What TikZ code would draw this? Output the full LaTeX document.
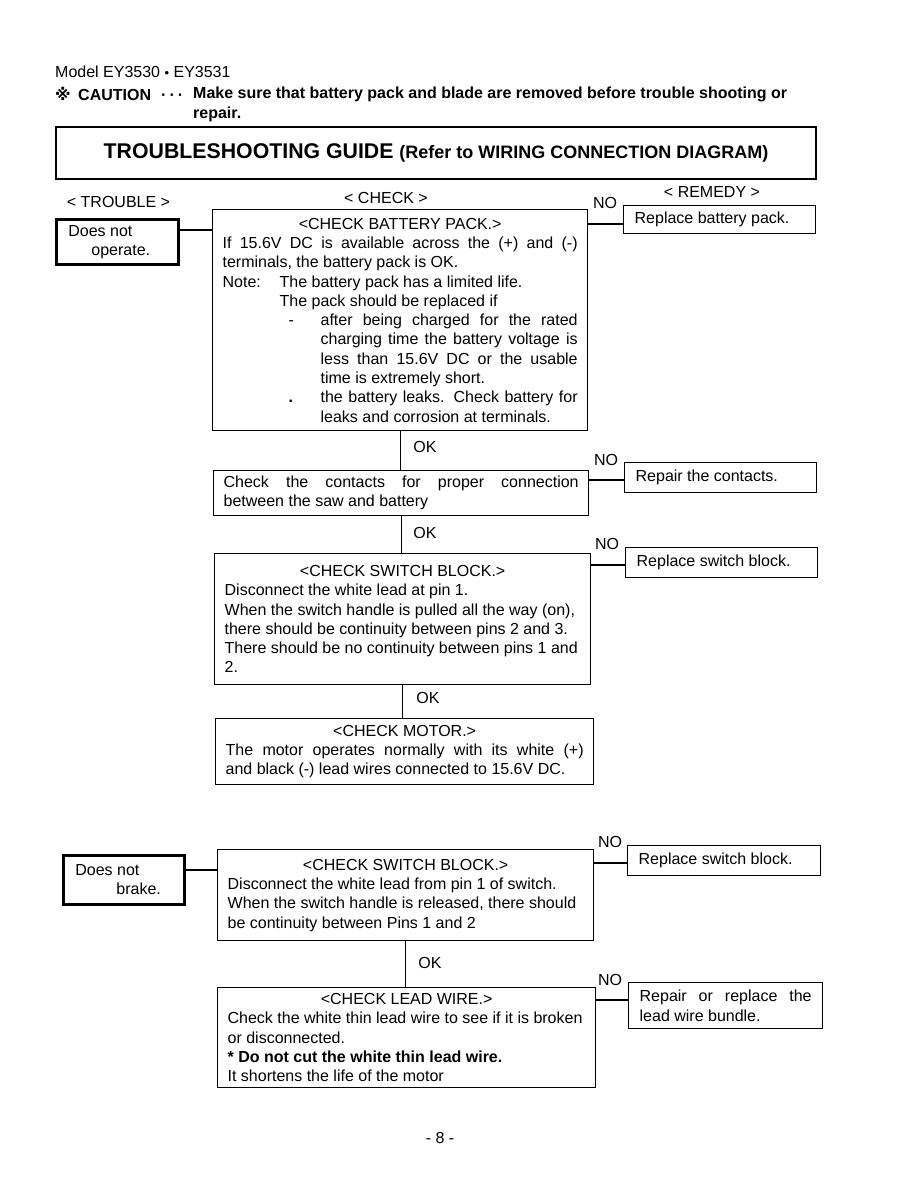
\documentclass[tikz,border=0pt]{standalone}
\usepackage{fontspec}
\setmainfont{Liberation Sans}
\newfontfamily\symfont{DejaVu Sans}
\newcommand\fs{\fontsize{16}{19.3}\selectfont}
\tikzset{
  cbox/.style={draw, line width=1.3pt, anchor=north west, inner xsep=10pt, inner ysep=2pt, font=\fs},
  rbox/.style={draw, line width=1.3pt, anchor=north west, inner xsep=11pt, inner ysep=2pt, font=\fs},
  tbox/.style={draw, line width=2.8pt, anchor=north west, inner xsep=12pt, inner ysep=2pt, font=\fs},
  lbl/.style={inner sep=0pt, font=\fs},
  conn/.style={line width=1.2pt}
}
\begin{document}
\begin{tikzpicture}[x=1pt,y=-1pt]
\useasboundingbox[fill=white] (0,0) rectangle (918,1188);

% header
\node[lbl, anchor=west] (model) at (55,72) {Model EY3530 {\fontsize{13}{14}\selectfont\raisebox{0.5pt}{•}} EY3531};
\node[lbl, anchor=base west, font=\fs\bfseries] (mark) at (55,100.5) {{\symfont\bfseries ※}};
\node[lbl, anchor=base west, font=\fs\bfseries] (caut) at (78,100.5) {CAUTION};
\node[lbl, anchor=base west, font=\fs\bfseries] (dots) at (161,100.5) {·\hspace{3pt}·\hspace{3pt}·};
\node[lbl, anchor=west, font=\fs\bfseries] (caut2) at (193,94) {Make sure that battery pack and blade are removed before trouble shooting or};
\node[lbl, anchor=west, font=\fs\bfseries] (caut3) at (193,114) {repair.};

\node[draw, line width=2pt, anchor=north west, minimum width=760pt, minimum height=52pt, inner sep=0pt] (title) at (55,126)
  {\raisebox{-2pt}{{\fontsize{21.3}{24}\selectfont\bfseries TROUBLESHOOTING GUIDE}\hspace{3pt} {\fontsize{18}{22}\selectfont\bfseries (Refer to WIRING CONNECTION DIAGRAM)}}};

\node[lbl] (hT) at (118.5,202) {< TROUBLE >};
\node[lbl] (hC) at (386,198) {< CHECK >};
\node[lbl] (hR) at (712,192) {< REMEDY >};

% trouble 1
\node[tbox, minimum height=45pt] (t1) at (55,218)
  {\parbox{98pt}{Does not\\\hspace*{23pt}operate.}};

% check 1
\node[cbox, minimum height=221pt] (c1) at (212,209) {\parbox{355pt}{\fs
{\centering <CHECK BATTERY PACK.>\par}
If 15.6V DC is available across the (+) and (-)\linebreak terminals, the battery pack is OK.\par
\makebox[57pt][l]{Note:}The battery pack has a limited life.\par
\hspace*{57pt}The pack should be replaced if\par
{\leftskip=98pt\relax
\noindent\llap{\makebox[32pt][l]{-}}after being charged for the rated\linebreak charging time the battery voltage is\linebreak less than 15.6V DC or the usable\linebreak time is extremely short.\par
\noindent\llap{\makebox[32pt][l]{\textbf{.}}}the battery leaks. Check battery for\linebreak leaks and corrosion at terminals.\par}}};

\node[rbox, minimum width=192pt, minimum height=28pt] (r1) at (623,205)
  {\parbox{170pt}{Replace battery pack.}};

% check 2
\node[cbox, minimum height=45pt] (c2) at (213,470) {\parbox{355pt}{\fs
Check the contacts for proper connection\linebreak between the saw and battery}};
\node[rbox, minimum width=192pt, minimum height=30pt] (r2) at (624,462)
  {\parbox{170pt}{Repair the contacts.}};

% check 3
\node[cbox, minimum height=131pt] (c3) at (214,553) {\parbox{356pt}{\fs
{\centering <CHECK SWITCH BLOCK.>\par}
Disconnect the white lead at pin 1.\par
When the switch handle is pulled all the way (on),\par
there should be continuity between pins 2 and 3.\par
There should be no continuity between pins 1 and\par
2.}};
\node[rbox, minimum width=192pt, minimum height=30pt] (r3) at (625,547)
  {\parbox{170pt}{Replace switch block.}};

% check 4
\node[cbox, minimum height=66pt] (c4) at (215,718) {\parbox{358pt}{\fs
{\centering <CHECK MOTOR.>\par}
The motor operates normally with its white (+)\linebreak and black (-) lead wires connected to 15.6V DC.}};

% trouble 2
\node[tbox, minimum height=49pt] (t2) at (62,854)
  {\parbox{97pt}{Does not\\\hspace*{41pt}brake.}};

% check 5
\node[cbox, minimum height=91pt] (c5) at (217,849) {\parbox{356pt}{\fs
{\centering <CHECK SWITCH BLOCK.>\par}
Disconnect the white lead from pin 1 of switch.\par
When the switch handle is released, there should\par
be continuity between Pins 1 and 2}};
\node[rbox, minimum width=193pt, minimum height=30pt] (r4) at (627,845)
  {\parbox{171pt}{Replace switch block.}};

% check 6
\node[cbox, minimum height=100pt] (c6) at (217,987) {\parbox{358pt}{\fs
{\centering <CHECK LEAD WIRE.>\par}
Check the white thin lead wire to see if it is broken\par
or disconnected.\par
{\bfseries * Do not cut the white thin lead wire.}\par
It shortens the life of the motor}};
\node[rbox, minimum width=194pt, minimum height=46pt] (r5) at (628,982)
  {\parbox{172pt}{Repair or replace the\linebreak lead wire bundle.}};

% labels
\node[lbl] (no1) at (605,203) {NO};
\node[lbl] (no2) at (606,460) {NO};
\node[lbl] (no3) at (607,544) {NO};
\node[lbl] (no4) at (610,842) {NO};
\node[lbl] (no5) at (610,980) {NO};
\node[lbl] (ok1) at (425,447) {OK};
\node[lbl] (ok2) at (425,533) {OK};
\node[lbl] (ok3) at (428,698) {OK};
\node[lbl] (ok4) at (430,963) {OK};
\node[lbl] (page) at (440,1138) {- 8 -};

% connectors
\draw[conn] (t1.east |- 0,230) -- (c1.west |- 0,230);
\draw[conn] (t2.east |- 0,870) -- (c5.west |- 0,870);
\draw[conn] (c1.east |- 0,224) -- (r1.west |- 0,224);
\draw[conn] (c2.east |- 0,480) -- (r2.west |- 0,480);
\draw[conn] (c3.east |- 0,565) -- (r3.west |- 0,565);
\draw[conn] (c5.east |- 0,863) -- (r4.west |- 0,863);
\draw[conn] (c6.east |- 0,1000) -- (r5.west |- 0,1000);
\draw[conn] (c1.south) -- (c1.south |- c2.north);
\draw[conn] (c2.south) -- (c2.south |- c3.north);
\draw[conn] (c3.south) -- (c3.south |- c4.north);
\draw[conn] (c5.south) -- (c5.south |- c6.north);
\end{tikzpicture}
\end{document}
